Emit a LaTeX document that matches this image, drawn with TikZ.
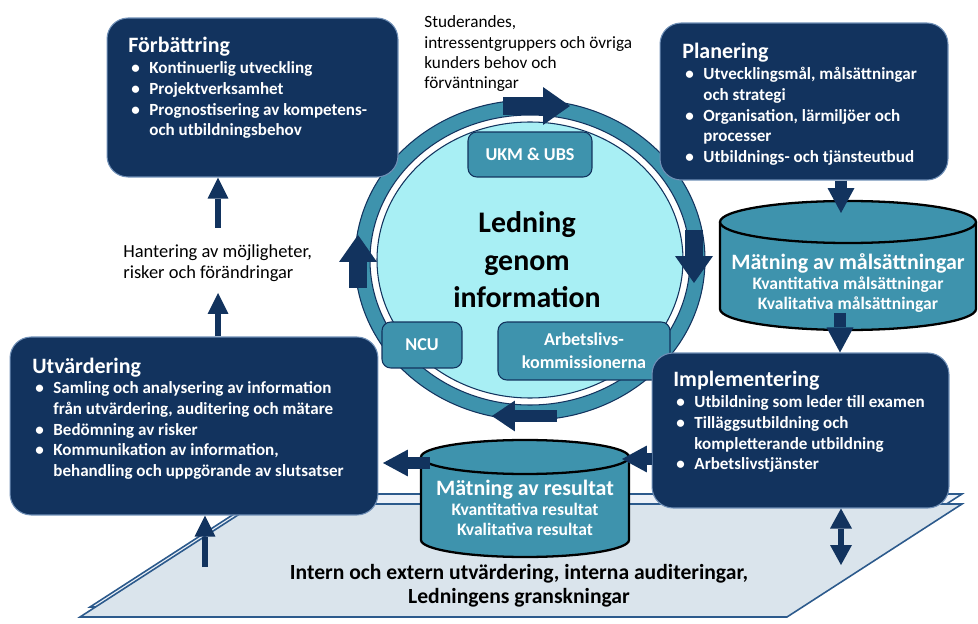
\documentclass[tikz,border=0pt]{standalone}
\usepackage{fontspec}
\setmainfont{Carlito}
\usetikzlibrary{arrows.meta}

\definecolor{navy}{HTML}{12335E}
\definecolor{ringteal}{HTML}{3E93AD}
\definecolor{discblue}{HTML}{A8EFF4}
\definecolor{platefill}{HTML}{DAE4EC}
\definecolor{plateback}{HTML}{ECF1F8}
\definecolor{plateline}{HTML}{2C5A8C}
\definecolor{boxline}{HTML}{6F8FB6}

\newcommand\bul{\makebox[12pt][l]{\hspace{1.7pt}\textbullet}}
\newcommand\cont{\hspace*{12pt}}
\newcommand\boxtitle[1]{{\fontsize{12.5}{11.8}\selectfont #1}}

\tikzset{
  navybox/.style={draw=boxline, line width=0.6pt, fill=navy, rounded corners=12pt},
  boxtext/.style={text=white, inner sep=0pt, font=\bfseries\fontsize{9.7}{11.8}\selectfont},
  tealbox/.style={draw=navy, line width=0.6pt, fill=ringteal, rounded corners=5pt,
    text=white, align=center, font=\bfseries\fontsize{10.3}{13}\selectfont},
  cyl/.style={fill=ringteal, draw=black, line width=1.3pt},
  cyltext/.style={text=white, align=center, font=\bfseries\fontsize{10}{11.4}\selectfont},
  ringline/.style={draw=navy, line width=0.6pt},
  ringarr/.style={navy, line width=0.36cm, -{Triangle[length=0.54cm, width=0.76cm, line width=0pt]}},
  bigarr/.style={navy, line width=0.24cm, -{Triangle[length=0.5cm, width=0.54cm, line width=0pt]}},
  thinarr/.style={navy, line width=0.13cm, -{Triangle[length=0.42cm, width=0.42cm, line width=0pt]}},
  dblarr/.style={navy, line width=0.12cm,
    {Triangle[length=0.4cm, width=0.44cm, line width=0pt]}-{Triangle[length=0.4cm, width=0.44cm, line width=0pt]}},
}

\begin{document}
\begin{tikzpicture}[x=0.02cm, y=0.02cm]
\useasboundingbox (0,0) rectangle (978,623);

% plate under everything
\draw[plateline, fill=plateback, line width=0.9pt] (90,16) -- (265,129) -- (962,129) -- (787,16) -- cycle;
\draw[plateline, fill=platefill, line width=0.9pt] (80,6) -- (255,119) -- (962,119) -- (787,6) -- cycle;
\node[font=\bfseries\fontsize{12.3}{13.7}\selectfont, align=center] (plate) at (519,37)
  {Intern och extern utvärdering, interna auditeringar,\\Ledningens granskningar};

% ring and disc
\draw[ringline, fill=ringteal] (530,363) ellipse [x radius=175, y radius=160];
\draw[ringline, fill=white] (530,363) ellipse [x radius=160, y radius=145];
\draw[ringline, fill=discblue] (530,363) ellipse [x radius=153, y radius=138];

\draw[ringarr] (503,517) -- (570,517);
\draw[ringarr] (694,393) -- (694,340);
\draw[ringarr] (358,335) -- (358,388);
\draw[navy, line width=0.26cm, -{Triangle[length=0.46cm, width=0.62cm, line width=0pt]}] (557,207) -- (492,207);

\node[font=\bfseries\fontsize{17}{21.3}\selectfont, align=center] (lead) at (527,363) {Ledning\\genom\\information};
\node[tealbox, minimum width=2.48cm, minimum height=0.9cm] (ukm) at (530,468.5) {UKM \& UBS};
\node[tealbox, minimum width=1.6cm, minimum height=0.92cm] (ncu) at (422,278) {NCU};
\node[tealbox, minimum width=3.44cm, minimum height=1.16cm] (arb) at (584,272) {Arbetslivs-\\kommissionerna};

% the four boxes
\node[navybox, minimum width=5.82cm, minimum height=3.18cm] (forb) at (252.5,525.5) {};
\node[navybox, minimum width=5.76cm, minimum height=3.14cm] (plan) at (804,521.5) {};
\node[navybox, minimum width=7.36cm, minimum height=3.56cm] (utv) at (194,197) {};
\node[navybox, minimum width=5.94cm, minimum height=3.10cm] (impl) at (800.5,192.5) {};

\node[boxtext, anchor=base west] (forbtxt) at (128,570) {\parbox[t]{7.5cm}{\raggedright
  \boxtitle{Förbättring}\\
  \bul Kontinuerlig utveckling\\
  \bul Projektverksamhet\\
  \bul Prognostisering av kompetens-\\
  \cont och utbildningsbehov}};
\node[boxtext, anchor=base west] (plantxt) at (682,564) {\parbox[t]{7.5cm}{\raggedright
  \boxtitle{Planering}\\
  \bul Utvecklingsmål, målsättningar\\
  \cont och strategi\\
  \bul Organisation, lärmiljöer och\\
  \cont processer\\
  \bul Utbildnings- och tjänsteutbud}};
\node[boxtext, anchor=base west] (impltxt) at (673,236) {\parbox[t]{7.5cm}{\raggedright
  \boxtitle{Implementering}\\
  \bul Utbildning som leder till examen\\
  \bul Tilläggsutbildning och\\
  \cont kompletterande utbildning\\
  \bul Arbetslivstjänster}};
\node[boxtext, anchor=base west] (utvtxt) at (32,250) {\parbox[t]{7.5cm}{\raggedright
  \boxtitle{Utvärdering}\\
  \bul Samling och analysering av information\\
  \cont från utvärdering, auditering och mätare\\
  \bul Bedömning av risker\\
  \bul Kommunikation av information,\\
  \cont behandling och uppgörande av slutsatser}};

% cylinders
\draw[cyl] (720,401) -- (720,314) arc[start angle=180, end angle=360, x radius=128, y radius=21] -- (976,401);
\draw[cyl] (848,401) ellipse [x radius=128, y radius=21];
\node[cyltext] (cylA) at (848,340)
  {{\fontsize{12.5}{12}\selectfont Mätning av målsättningar}\\Kvantitativa målsättningar\\Kvalitativa målsättningar};

\draw[cyl] (421,166) -- (421,83) arc[start angle=180, end angle=360, x radius=104, y radius=17] -- (629,166);
\draw[cyl] (525,166) ellipse [x radius=104, y radius=17];
\node[cyltext] (cylB) at (525,115)
  {{\fontsize{12.5}{12}\selectfont Mätning av resultat}\\Kvantitativa resultat\\Kvalitativa resultat};

% arrows between the parts
\coordinate (cylAin) at (841,410);
\coordinate (cylAout) at (840,310);
\coordinate (cylBin) at (622,164);
\coordinate (cylBout) at (430,160);
\coordinate (utvin) at (383,160);
\coordinate (platein) at (205,56);
\coordinate (plateout) at (841,58);
\coordinate (hantlo) at (218,330);
\coordinate (hanthi) at (218,395);

\draw[bigarr] (cylAin |- plan.south) -- (cylAin);
\draw[bigarr] (cylAout) -- (cylAout |- impl.north);
\draw[bigarr] (cylBin -| impl.west) -- (cylBin);
\draw[bigarr] (cylBout) -- (utvin);
\draw[thinarr] (platein) -- (platein |- utv.south);
\draw[dblarr] (plateout |- impl.south) -- (plateout);
\draw[thinarr] (hantlo |- utv.north) -- (hantlo);
\draw[thinarr] (hanthi) -- (hanthi |- forb.south);

\node[anchor=base west, inner sep=0pt] (hant) at (123,365) {\parbox[t]{6cm}{\fontsize{10.5}{11.4}\selectfont\raggedright
  Hantering av möjligheter,\\risker och förändringar}};
\node[anchor=base west, inner sep=0pt] (stud) at (424,595) {\parbox[t]{6cm}{\fontsize{9.8}{11.4}\selectfont\raggedright
  Studerandes,\\intressentgruppers och övriga\\kunders behov och\\förväntningar}};
\end{tikzpicture}
\end{document}
